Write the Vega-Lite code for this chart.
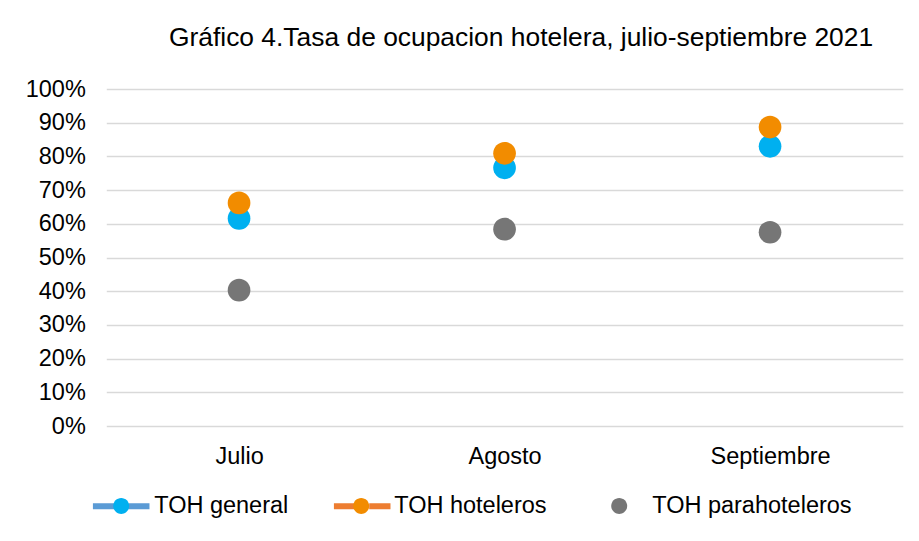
{
  "$schema": "https://vega.github.io/schema/vega-lite/v6.json",
  "width": 796.5,
  "height": 337,
  "autosize": {"type": "none"},
  "padding": {"left": 106.3, "top": 89, "right": 16.2, "bottom": 115},
  "background": "white",
  "title": {
    "text": "Gráfico 4.Tasa de ocupacion hotelera, julio-septiembre 2021",
    "font": "Liberation Sans",
    "fontSize": 26.4,
    "fontWeight": "normal",
    "color": "#000000",
    "anchor": "middle",
    "dx": 16.5,
    "baseline": "alphabetic",
    "offset": 4.6
  },
  "data": {
    "values": [
      {"mes": "Julio", "serie": "TOH general", "tasa": 0.616},
      {"mes": "Julio", "serie": "TOH hoteleros", "tasa": 0.662},
      {"mes": "Julio", "serie": "TOH parahoteleros", "tasa": 0.403},
      {"mes": "Agosto", "serie": "TOH general", "tasa": 0.766},
      {"mes": "Agosto", "serie": "TOH hoteleros", "tasa": 0.809},
      {"mes": "Agosto", "serie": "TOH parahoteleros", "tasa": 0.584},
      {"mes": "Septiembre", "serie": "TOH general", "tasa": 0.83},
      {"mes": "Septiembre", "serie": "TOH hoteleros", "tasa": 0.887},
      {"mes": "Septiembre", "serie": "TOH parahoteleros", "tasa": 0.575}
    ]
  },
  "mark": {"type": "point", "filled": true, "size": 6430, "opacity": 1},
  "encoding": {
    "x": {
      "field": "mes",
      "type": "nominal",
      "sort": ["Julio", "Agosto", "Septiembre"],
      "scale": {"padding": 0.5},
      "axis": {
        "title": null,
        "labelAngle": 0,
        "domain": false,
        "ticks": false,
        "tickSize": 0,
        "grid": false,
        "labelPadding": 37.3,
        "labelBaseline": "alphabetic",
        "labelFont": "Liberation Sans",
        "labelFontSize": 23.5,
        "labelColor": "#000000"
      }
    },
    "y": {
      "field": "tasa",
      "type": "quantitative",
      "scale": {"domain": [0, 1]},
      "axis": {
        "title": null,
        "format": ".0%",
        "values": [0, 0.1, 0.2, 0.3, 0.4, 0.5, 0.6, 0.7, 0.8, 0.9, 1],
        "domain": false,
        "ticks": false,
        "tickSize": 0,
        "labelPadding": 21,
        "labelFont": "Liberation Sans",
        "labelFontSize": 23.5,
        "labelColor": "#000000",
        "gridColor": "#D9D9D9",
        "gridWidth": 1.3
      }
    },
    "color": {
      "field": "serie",
      "type": "nominal",
      "scale": {
        "domain": ["TOH general", "TOH hoteleros", "TOH parahoteleros"],
        "range": ["#00B0F0", "#F28C00", "#767676"]
      },
      "legend": {
        "orient": "none",
        "legendX": -13.6,
        "legendY": 388.4,
        "direction": "horizontal",
        "title": null,
        "padding": 0,
        "zindex": 1,
        "symbolSize": 2560,
        "symbolOpacity": 1,
        "labelFont": "Liberation Sans",
        "labelFontSize": 23.5,
        "labelColor": "#000000",
        "labelOpacity": 0,
        "labelOffset": 4.5,
        "labelLimit": 0,
        "columnPadding": 33,
        "encoding": {
          "symbols": {
            "shape": {"value": "M-1.118,0H-0.277M0.277,0H1.118"},
            "stroke": {"value": {"expr": "datum.value === 'TOH general' ? '#5B9BD5' : datum.value === 'TOH hoteleros' ? '#ED7D31' : 'transparent'"}},
            "strokeWidth": {"value": 6},
            "opacity": {"value": 1}
          }
        }
      }
    },
    "shape": {
      "field": "serie",
      "type": "nominal",
      "sort": ["TOH general", "TOH hoteleros", "TOH parahoteleros"],
      "scale": {"range": ["M0.283,0A0.283,0.283 0 1,1 -0.283,0A0.283,0.283 0 1,1 0.283,0Z", "M0.283,0A0.283,0.283 0 1,1 -0.283,0A0.283,0.283 0 1,1 0.283,0Z", "M0.283,0A0.283,0.283 0 1,1 -0.283,0A0.283,0.283 0 1,1 0.283,0Z"]},
      "legend": {
        "orient": "none",
        "legendX": -13.6,
        "legendY": 388.4,
        "direction": "horizontal",
        "title": null,
        "padding": 0,
        "zindex": 2,
        "symbolSize": 3204,
        "symbolStrokeWidth": 0,
        "labelFont": "Liberation Sans",
        "labelFontSize": 23.5,
        "labelColor": "#000000",
        "labelOffset": 4.5,
        "labelLimit": 0,
        "columnPadding": 44,
        "encoding": {
          "symbols": {
            "fill": {"value": {"expr": "datum.value === 'TOH general' ? '#00B0F0' : datum.value === 'TOH hoteleros' ? '#F28C00' : '#767676'"}},
            "strokeWidth": {"value": 0},
            "opacity": {"value": 1}
          }
        }
      }
    }
  },
  "config": {
    "view": {"stroke": null},
    "font": "Liberation Sans"
  }
}
